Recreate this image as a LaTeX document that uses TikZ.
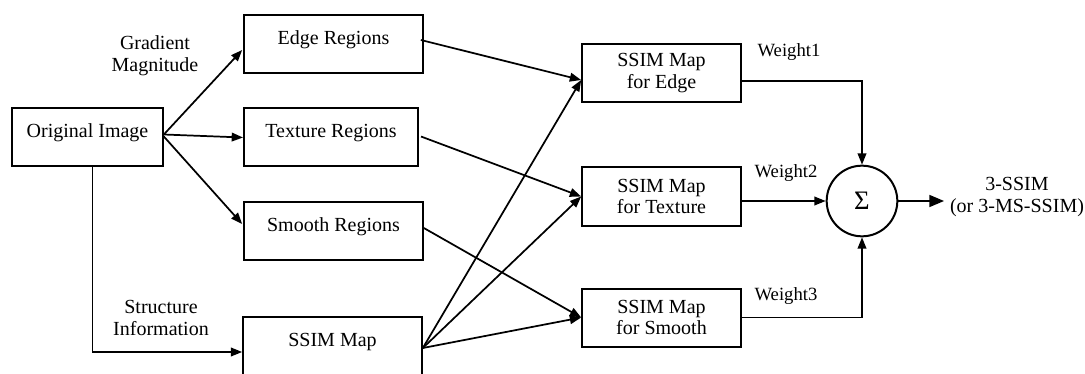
\documentclass[tikz,border=0pt]{standalone}
\usepackage{fontspec}
\setmainfont{Liberation Serif}
\usetikzlibrary{arrows.meta,calc}
\newcommand{\upt}[1]{\raisebox{3.5pt}[10.5pt][3.2pt]{#1}}
\begin{document}
\begin{tikzpicture}[x=0.75pt,y=-0.75pt,
  box/.style={draw,line width=1.5pt,minimum height=43.5pt,inner sep=0pt,align=center,font=\fontsize{15}{16}\selectfont},
  lbl/.style={align=center,font=\fontsize{15}{16.5}\selectfont},
  wlbl/.style={font=\fontsize{14}{16}\selectfont},
  arr/.style={line width=1.3pt,-{Triangle[length=8.5pt,width=6.5pt]}},
  ln/.style={line width=1.3pt}]
\useasboundingbox (0,0) rectangle (1085,374);
\node[box,minimum width=113pt] (orig) at (87.5,137.5) {\upt{Original Image}};
\node[box,minimum width=134pt] (edge) at (333.5,44) {\upt{Edge Regions}};
\node[box,minimum width=130.5pt] (tex) at (331,137.5) {\upt{Texture Regions}};
\node[box,minimum width=134pt] (smo) at (333.5,231) {\upt{Smooth Regions}};
\node[box,minimum width=134pt] (ssim) at (332.5,346) {\upt{SSIM Map}};
\node[box,minimum width=119pt] (sedge) at (661.5,73) {SSIM Map\\for Edge};
\node[box,minimum width=119pt] (stex) at (661.5,196.5) {SSIM Map\\for Texture};
\node[box,minimum width=119pt] (ssmo) at (661.5,317.5) {SSIM Map\\for Smooth};
\node[draw,circle,line width=1.5pt,minimum size=53pt,inner sep=0pt,font=\fontsize{20}{20}\selectfont] (sig) at (862,201) {Σ};
\node[lbl] (gm) at (155,56) {Gradient\\Magnitude};
\node[lbl] (si) at (161,318) {Structure\\Information};
\node[wlbl] (w1) at (789,52) {Weight1};
\node[wlbl] (w2) at (786,173) {Weight2};
\node[wlbl] (w3) at (786,296) {Weight3};
\node[lbl] (out) at (1017,197) {3-SSIM\\(or 3-MS-SSIM)};
\coordinate (outend) at (944,201);
% from original image
\draw[arr] ($(orig.east)+(0,-3)$) -- ($(edge.west)+(-1,6)$);
\draw[arr] ($(orig.east)+(0,-3)$) -- (tex.west);
\draw[arr] ($(orig.east)+(0,-1)$) -- ($(smo.west)+(-1,-7)$);
\draw[arr] ($(orig.south)+(5,0)$) |- ($(ssim.west)+(0,6)$);
% regions to maps
\draw[arr] ($(edge.east)+(-3,-4)$) -- ($(sedge.west)+(0,7)$);
\draw[arr] ($(tex.east)+(2,-1)$) -- (stex.west);
\draw[arr] ($(smo.east)+(0,-3)$) -- (ssmo.west);
\draw[arr] ($(ssim.east)+(0,2)$) -- ($(sedge.west)+(0,7)$);
\draw[arr] ($(ssim.east)+(0,2)$) -- (stex.west);
\draw[arr] ($(ssim.east)+(0,2)$) -- (ssmo.west);
% weights
\draw[arr] ($(sedge.east)+(0,8)$) -| (sig.north);
\draw[arr] (stex.east |- sig.west) -- (sig.west);
\draw[arr] (ssmo.east) -| (sig.south);
\draw[line width=1.3pt,-{Triangle[length=11pt,width=9pt]}] (sig.east) -- (outend);
\end{tikzpicture}
\end{document}
